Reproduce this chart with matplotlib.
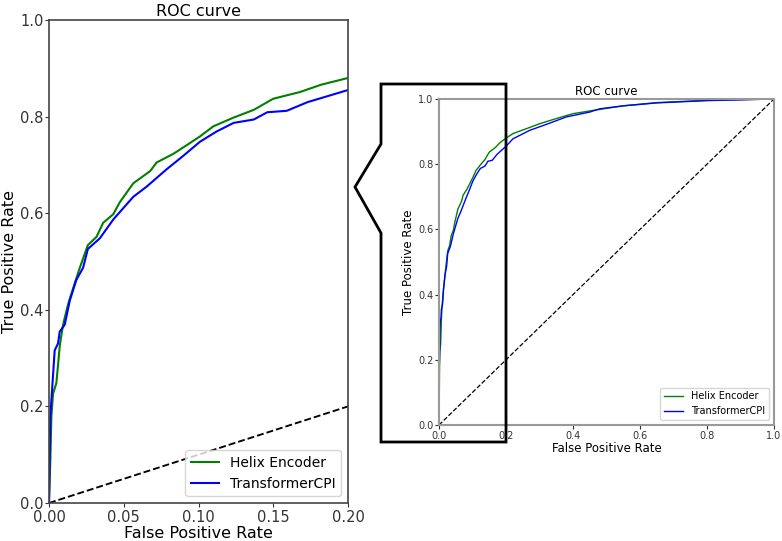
import matplotlib
matplotlib.use("Agg")
import matplotlib.pyplot as plt
from matplotlib.patches import Polygon

# ROC points
helix_fpr = [0.0, 0.0009, 0.0016, 0.0027, 0.0049, 0.006, 0.0072, 0.0094, 0.0128, 0.0172,
             0.0206, 0.026, 0.0318, 0.0362, 0.043, 0.0474, 0.0564, 0.0676, 0.072, 0.0832,
             0.0922, 0.101, 0.110, 0.1235, 0.137, 0.150, 0.168, 0.182, 0.2,
             0.221, 0.261, 0.30, 0.35, 0.40, 0.46, 0.55, 0.65, 0.80, 1.0]
helix_tpr = [0.0, 0.09, 0.18, 0.226, 0.248, 0.284, 0.326, 0.369, 0.412, 0.455,
             0.487, 0.534, 0.551, 0.58, 0.598, 0.623, 0.662, 0.687, 0.705, 0.723,
             0.741, 0.759, 0.78, 0.798, 0.814, 0.837, 0.851, 0.866, 0.88,
             0.894, 0.909, 0.924, 0.94, 0.955, 0.965, 0.979, 0.989, 0.996, 1.0]

tcpi_fpr = [0.0, 0.0009, 0.0022, 0.0038, 0.006, 0.0072, 0.0105, 0.0139, 0.0183, 0.0228,
            0.026, 0.034, 0.043, 0.0564, 0.0653, 0.0787, 0.0899, 0.101, 0.112, 0.1235,
            0.137, 0.146, 0.159, 0.173, 0.2,
            0.221, 0.271, 0.32, 0.38, 0.45, 0.48, 0.55, 0.65, 0.80, 1.0]
tcpi_tpr = [0.0, 0.18, 0.241, 0.316, 0.33, 0.355, 0.369, 0.419, 0.462, 0.487,
            0.526, 0.548, 0.587, 0.634, 0.655, 0.691, 0.719, 0.748, 0.769, 0.787,
            0.794, 0.809, 0.812, 0.83, 0.855,
            0.878, 0.904, 0.922, 0.945, 0.96, 0.97, 0.979, 0.988, 0.995, 1.0]

W, H = 782, 541
fig = plt.figure(figsize=(W / 100, H / 100), dpi=100)


def px_box(x0, y0, x1, y1):
    return [x0 / W, 1 - y1 / H, (x1 - x0) / W, (y1 - y0) / H]


def draw_roc(ax, lw, fs_tick, fs_lab, fs_leg, spine_col):
    ax.plot(helix_fpr, helix_tpr, color="g", lw=lw, label="Helix Encoder")
    ax.plot(tcpi_fpr, tcpi_tpr, color="b", lw=lw, label="TransformerCPI")
    ax.plot([0, 1], [0, 1], "k--", lw=lw * 0.9)
    ax.set_ylim(0, 1)
    ax.set_title("ROC curve", fontsize=fs_lab, pad=3)
    ax.set_xlabel("False Positive Rate", fontsize=fs_lab, labelpad=1)
    ax.set_ylabel("True Positive Rate", fontsize=fs_lab, labelpad=2)
    ax.tick_params(labelsize=fs_tick, length=3, pad=1, colors="#333333")
    for s in ax.spines.values():
        s.set_color(spine_col)
        s.set_linewidth(1.2)
    ax.legend(loc="lower right", fontsize=fs_leg, handlelength=2.0)


# zoomed panel
ax1 = fig.add_axes(px_box(49, 20, 348, 503))
draw_roc(ax1, 1.5, 10.5, 11.5, 10, "#444444")
ax1.set_xlim(0, 0.2)
ax1.set_xticks([0.0, 0.05, 0.10, 0.15, 0.20])
ax1.set_xticklabels(["0.00", "0.05", "0.10", "0.15", "0.20"])
ax1.tick_params(axis="x", pad=2)

# full panel
ax2 = fig.add_axes(px_box(439, 99, 774, 425))
draw_roc(ax2, 1.0, 7, 8.5, 7, "#999999")
ax2.set_xlim(0, 1)
for s in ax2.spines.values():
    s.set_linewidth(1.5)

# callout frame around the zoomed region
pts = [(381, 84), (506, 84), (506, 442), (381, 442), (381, 233), (355, 187), (381, 144)]
frame = Polygon([(x / W, 1 - y / H) for x, y in pts], closed=True, fill=False,
                edgecolor="black", lw=2, transform=fig.transFigure)
fig.patches.append(frame)

fig.savefig("out.png", dpi=100)
